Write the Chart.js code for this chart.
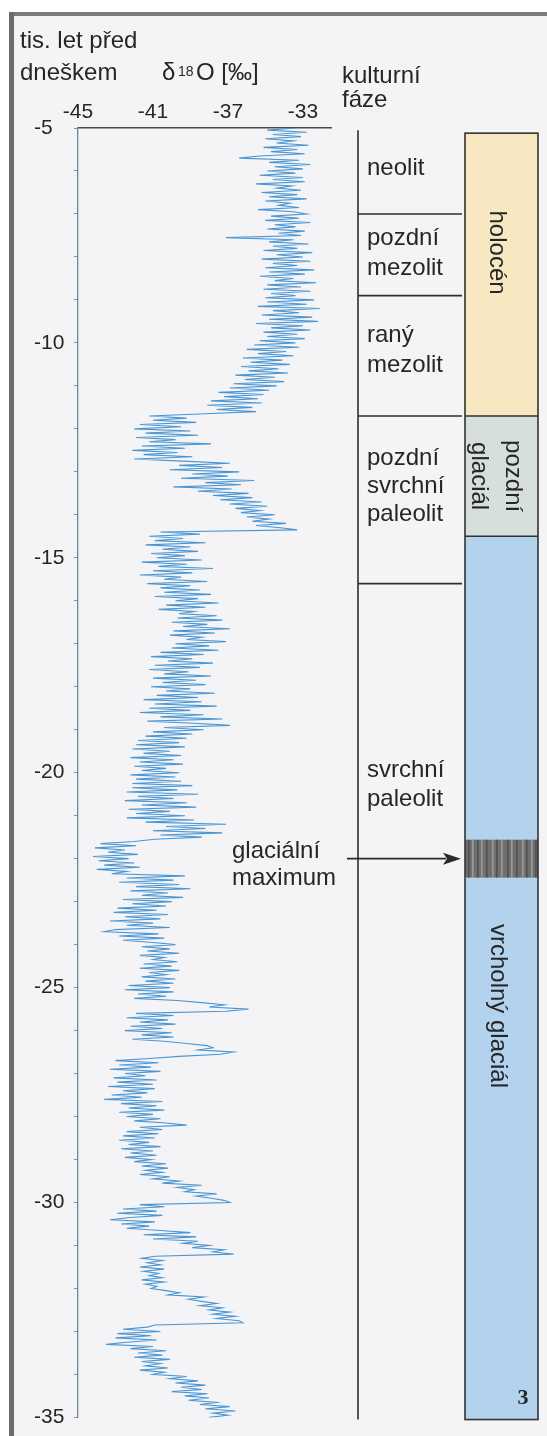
<!DOCTYPE html>
<html lang="cs">
<head>
<meta charset="utf-8">
<title>δ18O a kulturní fáze</title>
<script src="https://cdn.jsdelivr.net/npm/chart.js@4.4.1/dist/chart.umd.min.js"></script>
<style>
    html, body { margin: 0; padding: 0; background: #fff; }
    canvas { display: block; }
</style>
</head>
<body>
<canvas id="isoChart" width="547" height="1436"></canvas>
<script>
// --- 1. DATA (ka before present vs. permil) ---
const ages = [
    -5.00, -5.05, -5.10, -5.15, -5.20, -5.25, -5.30, -5.35, -5.40, -5.45, -5.50, -5.55, -5.60, -5.65, -5.70, -5.75, -5.80, -5.85, -5.90, -5.95,
    -6.00, -6.05, -6.10, -6.15, -6.20, -6.25, -6.30, -6.35, -6.40, -6.45, -6.50, -6.55, -6.60, -6.65, -6.70, -6.75, -6.80, -6.85, -6.90, -6.95,
    -7.00, -7.05, -7.10, -7.15, -7.20, -7.25, -7.30, -7.35, -7.40, -7.45, -7.50, -7.55, -7.60, -7.65, -7.70, -7.75, -7.80, -7.85, -7.90, -7.95,
    -8.00, -8.05, -8.10, -8.15, -8.20, -8.25, -8.30, -8.35, -8.40, -8.45, -8.50, -8.55, -8.60, -8.65, -8.70, -8.75, -8.80, -8.85, -8.90, -8.95,
    -9.00, -9.05, -9.10, -9.15, -9.20, -9.25, -9.30, -9.35, -9.40, -9.45, -9.50, -9.55, -9.60, -9.65, -9.70, -9.75, -9.80, -9.85, -9.90, -9.95,
    -10.00, -10.05, -10.10, -10.15, -10.20, -10.25, -10.30, -10.35, -10.40, -10.45, -10.50, -10.55, -10.60, -10.65, -10.70, -10.75, -10.80, -10.85, -10.90, -10.95,
    -11.00, -11.05, -11.10, -11.15, -11.20, -11.25, -11.30, -11.35, -11.40, -11.45, -11.50, -11.55, -11.60, -11.65, -11.70,
    -11.75, -11.80, -11.85, -11.90, -11.95, -12.00, -12.05, -12.10, -12.15, -12.20, -12.25, -12.30, -12.35, -12.40, -12.45, -12.50, -12.55, -12.60, -12.65, -12.70, -12.75,
    -12.80, -12.85, -12.90, -12.95, -13.00, -13.05, -13.10, -13.15, -13.20, -13.25, -13.30, -13.35, -13.40, -13.45, -13.50,
    -13.55, -13.60, -13.65, -13.70, -13.75, -13.80, -13.85, -13.90, -13.95, -14.00, -14.05, -14.10, -14.15, -14.20, -14.25, -14.30, -14.35,
    -14.40, -14.45, -14.50, -14.55, -14.60, -14.65, -14.70, -14.75, -14.80, -14.85, -14.90, -14.95,
    -15.00, -15.05, -15.10, -15.15, -15.20, -15.25, -15.30, -15.35, -15.40, -15.45, -15.50, -15.55, -15.60, -15.65, -15.70, -15.75,
    -15.80, -15.85, -15.90, -15.95, -16.00, -16.05, -16.10, -16.15, -16.20, -16.25, -16.30, -16.35,
    -16.40, -16.45, -16.50, -16.55, -16.60, -16.65, -16.70, -16.75, -16.80, -16.85, -16.90, -16.95, -17.00, -17.05, -17.10, -17.15,
    -17.20, -17.25, -17.30, -17.35, -17.40, -17.45, -17.50, -17.55, -17.60, -17.65, -17.70, -17.75, -17.80, -17.85, -17.90, -17.95, -18.00, -18.05, -18.10, -18.15, -18.20, -18.25,
    -18.30, -18.35, -18.40, -18.45, -18.50, -18.55, -18.60, -18.65, -18.70, -18.75, -18.80, -18.85,
    -18.90, -18.95, -19.00, -19.05, -19.10, -19.15, -19.20, -19.25,
    -19.30, -19.35, -19.40, -19.45, -19.50, -19.55, -19.60, -19.65, -19.70, -19.75, -19.80, -19.85, -19.90, -19.95, -20.00, -20.05, -20.10, -20.15, -20.20, -20.25,
    -20.30, -20.35, -20.40, -20.45, -20.50, -20.55, -20.60, -20.65, -20.70, -20.75, -20.80, -20.85, -20.90, -20.95, -21.00, -21.05, -21.10, -21.15,
    -21.20, -21.25, -21.30, -21.35, -21.40, -21.45, -21.50, -21.55,
    -21.60, -21.65, -21.70, -21.75, -21.80, -21.85, -21.90, -21.95, -22.00, -22.05, -22.10, -22.15, -22.20, -22.25, -22.30, -22.35,
    -22.40, -22.45, -22.50, -22.55, -22.60, -22.65, -22.70, -22.75, -22.80, -22.85, -22.90, -22.95, -23.00, -23.05,
    -23.10, -23.15, -23.20, -23.25, -23.30, -23.35, -23.40, -23.45, -23.50, -23.55, -23.60, -23.65, -23.70, -23.75, -23.80, -23.85, -23.90, -23.95,
    -24.00, -24.05, -24.10, -24.15, -24.20, -24.25, -24.30, -24.35, -24.40, -24.45, -24.50, -24.55, -24.60, -24.65, -24.70, -24.75, -24.80, -24.85, -24.90, -24.95,
    -25.00, -25.05, -25.10, -25.15, -25.20, -25.25, -25.30, -25.35, -25.40, -25.45, -25.50, -25.55,
    -25.60, -25.65, -25.70, -25.75, -25.80, -25.85, -25.90, -25.95, -26.00, -26.05, -26.10, -26.15, -26.20, -26.25,
    -26.30, -26.35, -26.40, -26.45, -26.50, -26.55, -26.60,
    -26.65, -26.70, -26.75, -26.80, -26.85, -26.90, -26.95, -27.00, -27.05, -27.10, -27.15, -27.20, -27.25, -27.30, -27.35, -27.40, -27.45, -27.50, -27.55, -27.60,
    -27.65, -27.70, -27.75, -27.80, -27.85, -27.90, -27.95, -28.00, -28.05, -28.10, -28.15, -28.20, -28.25, -28.30,
    -28.35, -28.40, -28.45, -28.50, -28.55, -28.60, -28.65, -28.70, -28.75, -28.80, -28.85, -28.90, -28.95, -29.00, -29.05,
    -29.10, -29.15, -29.20, -29.25, -29.30, -29.35, -29.40, -29.45,
    -29.50, -29.55, -29.60, -29.65, -29.70, -29.75, -29.80, -29.85, -29.90, -29.95, -30.00, -30.05,
    -30.10, -30.15, -30.20, -30.25, -30.30, -30.35, -30.40, -30.45, -30.50, -30.55, -30.60, -30.65,
    -30.70, -30.75, -30.80, -30.85, -30.90, -30.95, -31.00, -31.05, -31.10, -31.15, -31.20, -31.25,
    -31.30, -31.35, -31.40, -31.45, -31.50, -31.55, -31.60, -31.65, -31.70, -31.75, -31.80, -31.85, -31.90, -31.95, -32.00, -32.05,
    -32.10, -32.15, -32.20, -32.25, -32.30, -32.35, -32.40, -32.45, -32.50, -32.55, -32.60, -32.65, -32.70, -32.75, -32.80, -32.85,
    -32.90, -32.95, -33.00, -33.05, -33.10, -33.15, -33.20, -33.25, -33.30, -33.35, -33.40,
    -33.45, -33.50, -33.55, -33.60, -33.65, -33.70, -33.75, -33.80, -33.85, -33.90, -33.95, -34.00,
    -34.05, -34.10, -34.15, -34.20, -34.25, -34.30, -34.35, -34.40, -34.45, -34.50, -34.55, -34.60,
    -34.65, -34.70, -34.75, -34.80, -34.85, -34.90, -34.95, -35.00
];

const d18O = [
    -33.4, -34.9, -32.8, -34.6, -33.1, -35.0, -33.5, -34.4, -32.7, -35.1, -33.3, -34.7, -32.9, -35.3, -36.4, -33.2, -34.8, -32.6, -34.5, -33.0,
    -34.9, -33.4, -35.3, -33.0, -34.6, -32.9, -35.5, -33.6, -34.4, -33.1, -35.2, -33.3, -34.8, -32.8, -35.0, -33.7, -34.3, -33.2, -35.4, -33.5,
    -32.8, -34.7, -33.2, -35.0, -32.6, -34.5, -33.4, -34.9, -32.9, -34.3, -33.1, -37.1, -33.5, -34.8, -32.7, -34.6, -33.3, -35.1, -32.5, -34.4,
    -33.0, -35.2, -32.6, -34.6, -33.3, -35.0, -32.4, -34.8, -32.9, -35.3, -33.5, -34.5, -32.3, -34.9, -33.1, -35.1, -32.6, -34.7, -33.4, -35.0,
    -32.4, -34.9, -32.8, -35.4, -32.1, -34.6, -33.2, -35.2, -32.5, -34.8, -32.2, -35.5, -33.0, -34.7, -32.6, -35.1, -33.3, -34.9, -32.9, -35.3,
    -33.4, -35.6, -33.2, -36.0, -33.9, -35.4, -33.5, -36.2, -34.1, -35.8, -33.7, -36.3, -34.3, -35.9, -33.8, -36.6, -34.5, -36.1, -34.0, -36.7,
    -34.4, -36.9, -34.8, -37.5, -35.1, -37.2, -35.4, -37.9, -35.2, -38.1, -35.7, -37.6, -35.5, -38.2, -41.2,
    -39.2, -41.0, -38.7, -41.7, -39.5, -42.0, -39.0, -41.4, -38.6, -41.9, -39.8, -41.2, -37.9, -41.6, -39.3, -42.1, -39.7, -41.5, -38.9, -42.0, -39.4,
    -36.9, -39.6, -37.3, -40.1, -36.4, -38.9, -37.0, -39.5, -35.6, -38.2, -36.3, -39.9, -36.8, -38.6, -35.9,
    -37.8, -35.7, -37.4, -35.2, -36.9, -34.9, -36.6, -35.3, -36.3, -34.5, -36.0, -34.8, -35.7, -33.9, -35.5, -34.2, -33.3,
    -40.6, -38.5, -41.2, -39.4, -40.9, -38.2, -41.4, -39.0, -40.5, -38.6, -41.1, -39.3,
    -40.8, -38.4, -41.6, -39.2, -40.7, -37.8, -41.0, -38.9, -41.7, -39.5, -40.4, -38.1, -41.3, -39.0, -40.6, -38.5,
    -40.4, -37.9, -40.9, -38.6, -39.8, -37.5, -40.3, -38.2, -40.7, -38.8, -39.6, -37.6,
    -39.7, -37.3, -40.0, -38.1, -39.4, -36.9, -39.9, -37.7, -40.1, -38.4, -39.2, -37.1, -39.8, -38.0, -40.0, -37.5,
    -40.6, -38.3, -41.1, -38.9, -40.2, -37.8, -40.9, -38.5, -41.2, -39.1, -40.4, -37.9, -41.0, -38.7, -40.5, -38.2, -41.1, -39.0, -40.3, -37.7, -40.8, -38.6,
    -41.5, -38.4, -40.9, -37.6, -41.2, -39.0, -41.7, -38.3, -40.6, -37.3, -41.3, -38.8,
    -36.9, -40.4, -38.3, -41.0, -38.9, -41.4, -39.2, -41.8,
    -39.6, -41.9, -39.3, -42.1, -40.1, -41.5, -39.5, -42.2, -39.9, -41.7, -39.4, -42.0, -40.3, -41.6, -39.6, -42.2, -39.8, -41.9, -39.5, -42.1,
    -38.9, -42.1, -39.7, -42.4, -38.6, -41.8, -39.9, -42.5, -39.2, -41.6, -38.7, -42.3, -40.1, -41.9, -39.3, -42.4, -38.8, -41.4,
    -37.1, -40.3, -38.2, -41.0, -37.3, -40.6, -38.4, -40.9,
    -42.0, -43.8, -41.9, -44.1, -42.5, -43.4, -41.8, -44.2, -42.3, -43.9, -42.0, -43.6, -41.7, -44.0, -42.4, -43.2,
    -39.3, -42.4, -39.9, -42.8, -39.6, -41.9, -39.0, -42.2, -40.2, -41.6, -39.4, -42.6, -40.0, -42.1,
    -40.3, -42.9, -40.8, -43.1, -40.2, -42.5, -40.6, -43.3, -41.0, -42.4, -40.1, -43.0, -43.6, -40.7, -42.8, -40.4, -42.6, -41.0,
    -39.8, -41.6, -40.1, -41.3, -39.6, -41.7, -40.4, -41.0, -39.7, -41.5, -40.0, -41.7, -39.6, -41.2, -40.3, -41.6, -39.8, -41.4, -39.9, -42.3,
    -40.1, -42.5, -39.9, -41.8, -40.3, -42.0, -39.7, -38.4, -37.2, -38.0, -35.9, -37.1,
    -41.9, -39.9, -42.4, -40.2, -41.7, -39.8, -42.2, -40.5, -42.5, -40.0, -41.6, -39.9, -42.1, -40.4,
    -39.2, -38.1, -37.8, -38.6, -36.7, -37.4, -39.6,
    -41.2, -43.0, -40.7, -42.8, -41.1, -43.3, -40.6, -42.5, -41.4, -43.1, -40.8, -42.9, -41.0, -43.4, -40.9, -42.6, -41.3, -43.2, -41.6, -43.6,
    -40.5, -42.7, -40.8, -42.3, -40.4, -42.8, -41.0, -42.4, -40.6, -42.0, -40.3, -39.2, -41.7, -40.5,
    -42.4, -40.7, -42.6, -40.9, -42.8, -41.2, -42.3, -40.6, -42.7, -41.0, -42.2, -40.8, -42.5, -41.1, -42.0,
    -40.3, -41.6, -40.2, -41.4, -40.5, -41.7, -40.1, -41.0,
    -39.6, -40.5, -38.4, -39.7, -38.8, -39.3, -37.6, -38.7, -37.9, -37.2, -36.9, -41.7,
    -40.4, -42.6, -40.8, -42.9, -40.5, -42.2, -43.3, -40.9, -42.7, -41.2, -42.4, -40.6,
    -39.0, -41.5, -38.7, -41.0, -38.6, -39.4, -38.0, -38.9, -37.2, -37.8, -36.7, -40.9,
    -41.6, -40.5, -41.3, -40.6, -41.7, -40.4, -41.5, -40.7, -41.2, -40.5, -41.6, -40.4, -41.4, -40.8, -41.1, -40.3,
    -39.6, -40.2, -38.3, -39.1, -38.4, -37.6, -38.5, -37.3, -38.0, -36.9, -37.8, -36.6, -37.6, -36.4, -36.2, -40.9,
    -41.3, -42.6, -40.6, -42.9, -41.1, -43.0, -40.8, -42.4, -43.5, -41.0, -42.2,
    -40.3, -41.8, -40.5, -42.0, -40.1, -41.6, -40.6, -41.4, -40.2, -41.7, -40.4, -41.0,
    -39.2, -40.1, -38.6, -39.8, -38.2, -39.5, -38.4, -40.0, -38.1, -39.3, -38.0, -39.1,
    -37.6, -38.5, -36.9, -38.2, -36.6, -37.8, -37.0, -38.0
];

const xTicks = [-45, -41, -37, -33];
const yTickLabels = [-5, -10, -15, -20, -25, -30, -35];

// cultural phases: boundaries (ka) between the boxes
const phaseNames = [
    ['neolit'],
    ['pozdní', 'mezolit'],
    ['raný', 'mezolit'],
    ['pozdní', 'svrchní', 'paleolit'],
    ['svrchní', 'paleolit']
];
const phaseBounds = [-7.0, -8.9, -11.7, -15.6];

// climate periods (right column)
const epochNames = [['holocén'], ['pozdní', 'glaciál'], ['vrcholný glaciál']];
const epochBounds = [-5.12, -11.7, -14.5, -35.05];
const glacialMax = [-21.56, -22.44];


// --- 2. LAYOUT / STYLE ---
const FONT = "'Liberation Sans', Arial, Helvetica, sans-serif";
const TEXT = '#262626';
const phaseCol = { x0: 358, x1: 462, top: -5.05, bottom: -35.05 };
const epochCol = { x0: 465, x1: 538 };
const epochFill = ['#f7e8c2', '#d7dfdb', '#b2d2ee'];
// where each label sits (age of first baseline) and line height
const phaseLabelAt = [-6.09, -7.73, -9.99, -12.85, -20.09];
const lineStep = [0, 30, 30, 28, 29];


// --- 3. PAINT HELPERS ---
const backgroundPlugin = {
    id: 'paper',
    beforeDraw(chart) {
        const c = chart.ctx;
        c.save();
        c.fillStyle = '#ffffff';
        c.fillRect(0, 0, chart.width, chart.height);
        c.fillStyle = '#f4f4f6';
        c.fillRect(13, 15, chart.width - 13, chart.height - 15);
        c.fillStyle = '#7b7b7b';
        c.fillRect(9, 12, chart.width - 9, 4);
        c.fillStyle = '#6c6c6c';
        c.fillRect(9, 12, 5, chart.height - 12);
        c.restore();
    }
};

function rotatedText(c, lines, cx, cy, lh) {
    c.save();
    c.translate(cx, cy);
    c.rotate(Math.PI / 2);
    c.textAlign = 'center';
    c.textBaseline = 'middle';
    const off = (lines.length - 1) * lh / 2;
    lines.forEach((t, i) => c.fillText(t, 0, -off + i * lh));
    c.restore();
}

const annotationPlugin = {
    id: 'columns',
    afterDraw(chart) {
        const c = chart.ctx;
        const ys = chart.scales.y;
        const py = v => ys.getPixelForValue(v);
        c.save();

        // header texts
        c.fillStyle = TEXT;
        c.textBaseline = 'alphabetic';
        c.textAlign = 'left';
        c.font = '24px ' + FONT;
        c.fillText('tis. let před', 20, 48);
        c.fillText('dneškem', 20, 80);
        c.fillText('δ', 162, 80);
        c.font = '14px ' + FONT;
        c.fillText('18', 178, 76);
        c.font = '24px ' + FONT;
        c.fillText('O [‰]', 196, 80);
        c.fillText('kulturní', 342, 83);
        c.fillText('fáze', 342, 107);

        // cultural phase column
        c.strokeStyle = '#2e2e2e';
        c.lineWidth = 1.6;
        c.beginPath();
        c.moveTo(phaseCol.x0, py(phaseCol.top));
        c.lineTo(phaseCol.x0, py(phaseCol.bottom));
        phaseBounds.forEach(b => {
            c.moveTo(phaseCol.x0, py(b));
            c.lineTo(phaseCol.x1, py(b));
        });
        c.stroke();

        c.font = '24px ' + FONT;
        phaseNames.forEach((lines, i) => {
            const y0 = py(phaseLabelAt[i]);
            lines.forEach((t, j) => c.fillText(t, 367, y0 + j * lineStep[i]));
        });

        // climate column boxes
        epochFill.forEach((col, i) => {
            const y0 = py(epochBounds[i]);
            const y1 = py(epochBounds[i + 1]);
            c.fillStyle = col;
            c.fillRect(epochCol.x0, y0, epochCol.x1 - epochCol.x0, y1 - y0);
        });

        // glacial maximum hatch
        const gy0 = py(glacialMax[0]);
        const gy1 = py(glacialMax[1]);
        c.fillStyle = '#6f6f6f';
        c.fillRect(epochCol.x0, gy0, epochCol.x1 - epochCol.x0, gy1 - gy0);
        const stripes = [3, 7, 12, 16, 21, 27, 31, 36, 42, 46, 51, 57, 61, 66, 70];
        stripes.forEach((s, k) => {
            c.fillStyle = k % 2 ? '#9a9a9a' : '#505050';
            c.fillRect(epochCol.x0 + s, gy0, 1.6, gy1 - gy0);
        });

        c.strokeStyle = '#333';
        c.lineWidth = 1.6;
        c.strokeRect(epochCol.x0, py(epochBounds[0]), epochCol.x1 - epochCol.x0, py(epochBounds[3]) - py(epochBounds[0]));
        c.beginPath();
        for (let i = 1; i < epochBounds.length - 1; i++) {
            c.moveTo(epochCol.x0, py(epochBounds[i]));
            c.lineTo(epochCol.x1, py(epochBounds[i]));
        }
        c.stroke();

        // rotated period names
        c.fillStyle = TEXT;
        c.font = '24px ' + FONT;
        rotatedText(c, epochNames[0], 497, (py(epochBounds[0]) + py(epochBounds[1])) / 2 - 22, 30);
        rotatedText(c, epochNames[1], 496, (py(epochBounds[1]) + py(epochBounds[2])) / 2, 34);
        rotatedText(c, epochNames[2], 498, 1006, 30);

        c.font = 'bold 22px "Liberation Serif", serif';
        c.textAlign = 'center';
        c.textBaseline = 'middle';
        c.fillText('3', 523, 1398);

        // glacial maximum label + arrow
        const ay = py((glacialMax[0] + glacialMax[1]) / 2);
        c.font = '24px ' + FONT;
        c.textAlign = 'left';
        c.textBaseline = 'alphabetic';
        c.fillText('glaciální', 232, 858);
        c.fillText('maximum', 232, 885);
        c.strokeStyle = '#2a2a2a';
        c.lineWidth = 1.6;
        c.beginPath();
        c.moveTo(347, ay);
        c.lineTo(446, ay);
        c.stroke();
        c.fillStyle = '#2a2a2a';
        c.beginPath();
        c.moveTo(461, ay);
        c.lineTo(443, ay - 6);
        c.lineTo(447, ay);
        c.lineTo(443, ay + 6);
        c.closePath();
        c.fill();

        c.restore();
    }
};


// --- 4. CHART ---
const points = ages.map((a, i) => ({ x: d18O[i], y: a }));
const ctx = document.getElementById('isoChart').getContext('2d');

const isoChart = new Chart(ctx, {
    type: 'scatter',
    data: {
        datasets: [{
            label: 'δ18O',
            data: points,
            showLine: true,
            borderColor: '#4a96d4',
            borderWidth: 1.1,
            pointRadius: 0,
            tension: 0
        }]
    },
    options: {
        responsive: false,
        animation: false,
        devicePixelRatio: 1,
        layout: { padding: { left: 34, top: 0, right: 216, bottom: 18 } },
        plugins: {
            legend: { display: false },
            tooltip: { enabled: false }
        },
        scales: {
            x: {
                type: 'linear',
                position: 'top',
                min: -45,
                max: -31.5,
                afterFit: s => { s.height = 128; },
                afterBuildTicks: s => { s.ticks = xTicks.map(v => ({ value: v })); },
                grid: { display: false },
                border: { display: true, color: '#4a4a4a', width: 1.6 },
                ticks: {
                    padding: -5,
                    color: TEXT,
                    font: { family: FONT, size: 21 },
                    maxRotation: 0
                }
            },
            y: {
                type: 'linear',
                min: -35,
                max: -5,
                afterFit: s => { s.width = 44; },
                grid: { drawOnChartArea: false, drawTicks: true, tickLength: 4, color: '#8193a0' },
                border: { display: true, color: '#6f8797', width: 1.3 },
                ticks: {
                    stepSize: 1,
                    autoSkip: false,
                    crossAlign: 'far',
                    padding: 6,
                    color: TEXT,
                    font: { family: FONT, size: 21 },
                    callback: v => yTickLabels.includes(v) ? String(v) : ''
                }
            }
        }
    },
    plugins: [backgroundPlugin, annotationPlugin]
});
</script>
</body>
</html>
